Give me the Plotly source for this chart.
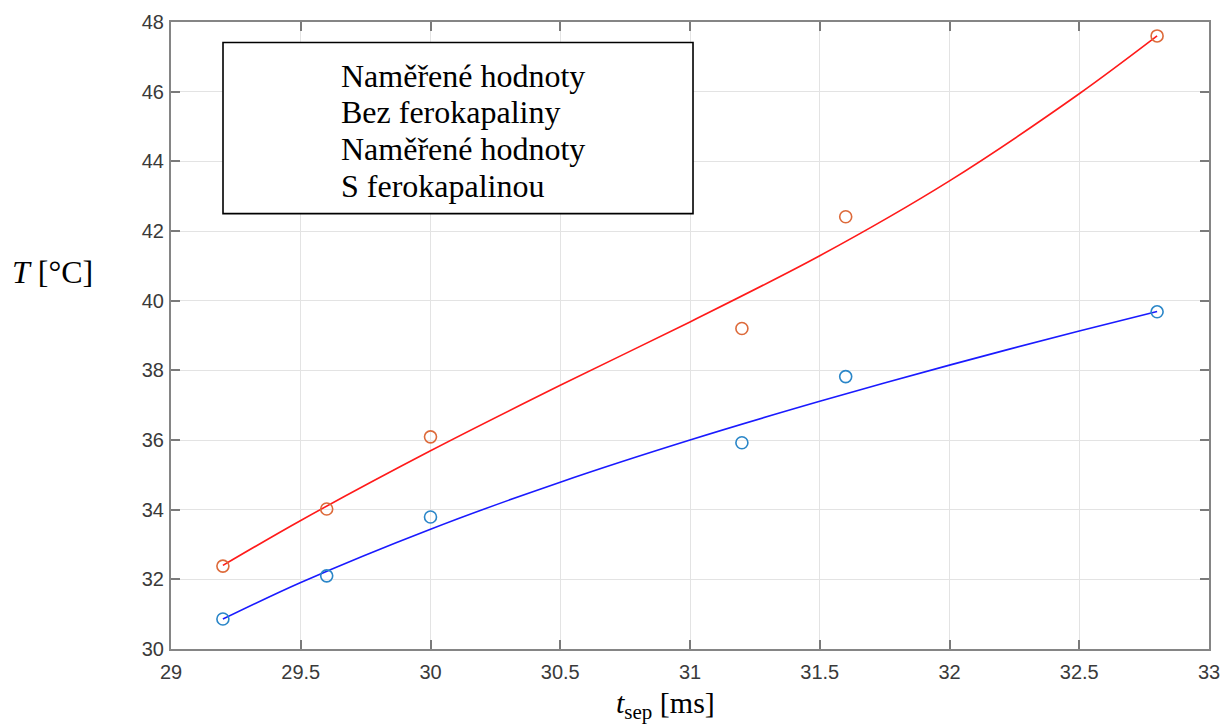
import plotly.graph_objects as go

# Measured data
t_meas = [29.2, 29.6, 30.0, 31.2, 31.6, 32.8]
T_bez = [30.86, 32.10, 33.79, 35.92, 37.82, 39.68]
T_s = [32.38, 34.02, 36.09, 39.20, 42.41, 47.60]

# Fitted curves
t_fit = [29.2, 29.5, 30.0, 30.5, 31.0, 31.5, 32.0, 32.5, 32.8]
T_fit_bez = [30.86, 31.91, 33.44, 34.79, 36.00, 37.11, 38.15, 39.13, 39.69]
T_fit_s = [32.40, 33.69, 35.69, 37.57, 39.39, 41.29, 43.44, 45.94, 47.60]

x_ticks = [29, 29.5, 30, 30.5, 31, 31.5, 32, 32.5, 33]
x_ticklabels = ["29", "29.5", "30", "30.5", "31", "31.5", "32", "32.5", "33"]
y_ticks = [30, 32, 34, 36, 38, 40, 42, 44, 46, 48]

legend_lines = ["Naměřené hodnoty", "Bez ferokapaliny", "Naměřené hodnoty", "S ferokapalinou"]

fig = go.Figure()
fig.add_trace(go.Scatter(x=t_fit, y=T_fit_s, mode="lines",
                         line=dict(color="#ff1a1a", width=1.6, shape="spline", smoothing=0.9), showlegend=False))
fig.add_trace(go.Scatter(x=t_fit, y=T_fit_bez, mode="lines",
                         line=dict(color="#1a1aff", width=1.6, shape="spline", smoothing=0.9), showlegend=False))
fig.add_trace(go.Scatter(x=t_meas, y=T_s, mode="markers",
                         marker=dict(symbol="circle-open", size=12, color="#dd6a3a", line=dict(width=1.6)), showlegend=False))
fig.add_trace(go.Scatter(x=t_meas, y=T_bez, mode="markers",
                         marker=dict(symbol="circle-open", size=12, color="#2a86c8", line=dict(width=1.6)), showlegend=False))

axis_common = dict(showgrid=True, gridcolor="#e3e3e3", gridwidth=1, showline=True, linecolor="#858585", linewidth=2,
                   mirror="ticks", ticks="inside", ticklen=9, tickwidth=1.5, tickcolor="#7a7a7a", zeroline=False,
                   automargin=False,
                   tickfont=dict(family="Liberation Sans, Arial", size=20, color="#3a3a3a"))

fig.update_xaxes(range=[29, 33], tickvals=x_ticks, ticktext=x_ticklabels, ticklabelstandoff=4, **axis_common)
fig.update_yaxes(range=[30, 48], tickvals=y_ticks, ticklabelstandoff=1, **axis_common)

# legend box
fig.add_shape(type="rect", xref="paper", yref="paper", x0=0.0501, x1=0.5029, y0=0.6943, y1=0.9673,
              line=dict(color="black", width=1.6), fillcolor="white", layer="above")
legend_y = [0.9146, 0.856, 0.798, 0.739]
for txt, yy in zip(legend_lines, legend_y):
    fig.add_annotation(text=txt, xref="paper", yref="paper", x=0.1618, y=yy, xanchor="left", yanchor="middle",
                       showarrow=False, font=dict(family="Liberation Serif, Times New Roman", size=32, color="black"))

# axis titles
fig.add_annotation(text="<i>T</i> [°C]", xref="paper", yref="paper", x=-0.1146, y=0.6018, xanchor="center", yanchor="middle",
                   showarrow=False, font=dict(family="Liberation Serif, Times New Roman", size=32, color="black"))
fig.add_annotation(text="<i>t</i><sub>sep</sub> [ms]", xref="paper", yref="paper", x=0.476, y=-0.089, xanchor="center", yanchor="middle",
                   showarrow=False, font=dict(family="Liberation Serif, Times New Roman", size=30, color="black"))

fig.update_layout(width=1221, height=727, margin=dict(l=171, r=12, t=22, b=78),
                  plot_bgcolor="white", paper_bgcolor="white", showlegend=False)

fig.write_html("out.html", config={"displayModeBar": False},
               post_script="document.body.style.margin='0px';document.body.style.overflow='hidden';")
